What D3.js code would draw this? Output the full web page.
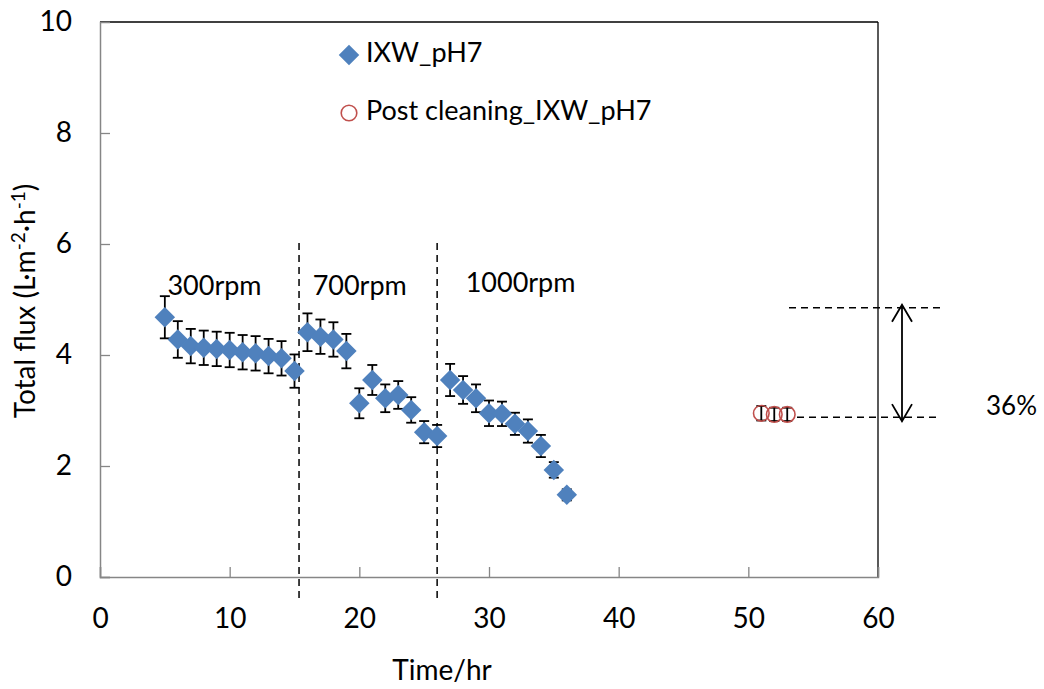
<!DOCTYPE html>
<html><head><meta charset="utf-8">
<script src="https://cdn.jsdelivr.net/npm/d3@7"></script>
<style>body{margin:0;background:#fff}svg{display:block}text{font-family:Lato,"Open Sans",sans-serif;fill:#000}</style>
</head><body>
<svg id="c" width="1044" height="689"></svg>
<script>
const ixwTime = [5,6,7,8,9,10,11,12,13,14,15,16,17,18,19,20,21,22,23,24,25,26,27,28,29,30,31,32,33,34,35,36];
const ixwFlux = [4.68,4.28,4.16,4.13,4.11,4.09,4.05,4.03,3.98,3.94,3.71,4.41,4.33,4.28,4.07,3.13,3.55,3.22,3.28,3.01,2.61,2.54,3.55,3.37,3.22,2.95,2.94,2.76,2.63,2.36,1.93,1.48];
const ixwErr  = [0.38,0.33,0.31,0.31,0.31,0.31,0.31,0.31,0.31,0.31,0.3,0.34,0.31,0.31,0.31,0.27,0.27,0.25,0.25,0.23,0.2,0.2,0.29,0.25,0.25,0.23,0.22,0.2,0.21,0.2,0.14,0.1];
const postTime = [51,52,53];
const postFlux = [2.95,2.93,2.93];
const postErr  = [0.13,0.12,0.12];
const xTicks = [0,10,20,30,40,50,60];
const yTicks = [0,2,4,6,8,10];
const speedLabels = ["300rpm","700rpm","1000rpm"];
const speedLabelX = [5.2,16.4,28.2];
const speedLabelY = [5.2,5.2,5.26];
const speedBreaks = [15.35,26.0];
const recoveryTop = 4.85, recoveryBottom = 2.88;
const recoveryLabel = "36%";

const svg = d3.select("#c");
const x = d3.scaleLinear().domain([0,60]).range([100,878]);
const y = d3.scaleLinear().domain([0,10]).range([577,22]);
const blue = "#4f81bd", red = "#c0504d";

// frame top/right
svg.append("line").attr("x1",100).attr("x2",878).attr("y1",22).attr("y2",22).attr("stroke","#000").attr("stroke-width",1.3);
svg.append("line").attr("x1",878).attr("x2",878).attr("y1",22).attr("y2",577).attr("stroke","#000").attr("stroke-width",1.3);

// axes
const gx = svg.append("g").attr("transform","translate(0,577)")
  .call(d3.axisBottom(x).tickValues(xTicks).tickSize(-10).tickPadding(31).tickFormat(d3.format("d")));
const gy = svg.append("g").attr("transform","translate(100,0)")
  .call(d3.axisLeft(y).tickValues(yTicks).tickSize(-10).tickPadding(28).tickFormat(d3.format("d")));
[gx,gy].forEach(g=>{
  g.select(".domain").attr("stroke","#868686").attr("stroke-width",1.5);
  g.selectAll(".tick line").attr("stroke","#868686").attr("stroke-width",1.3);
  g.selectAll(".tick text").style("font-size","28px").style("font-family","Lato, sans-serif").attr("fill","#000");
});
gx.selectAll(".tick text").attr("dy","0.71em");
gy.select(".tick:last-of-type line").remove();

// vertical dashed separators
svg.selectAll(".sep").data(speedBreaks).enter().append("line")
  .attr("x1",d=>x(d)).attr("x2",d=>x(d)).attr("y1",y(6.02)).attr("y2",y(-0.45))
  .attr("stroke","#000").attr("stroke-width",1.5).attr("stroke-dasharray","7,5");

// speed labels
svg.selectAll(".sl").data(speedLabels).enter().append("text")
  .attr("x",(d,i)=>x(speedLabelX[i])).attr("y",(d,i)=>y(speedLabelY[i]))
  .attr("dominant-baseline","middle").style("font-size","27px").text(d=>d);

// error bars
function errBars(times, vals, errs){
  const g = svg.append("g").attr("stroke","#000").attr("stroke-width",1.8);
  times.forEach((t,i)=>{
    const cx = x(t), y1 = y(vals[i]+errs[i]), y2 = y(vals[i]-errs[i]);
    g.append("line").attr("x1",cx).attr("x2",cx).attr("y1",y1).attr("y2",y2);
    g.append("line").attr("x1",cx-5).attr("x2",cx+5).attr("y1",y1).attr("y2",y1);
    g.append("line").attr("x1",cx-5).attr("x2",cx+5).attr("y1",y2).attr("y2",y2);
  });
}
errBars(ixwTime, ixwFlux, ixwErr);
errBars(postTime, postFlux, postErr);

svg.append("g").selectAll("path").data(ixwTime).enter().append("path")
  .attr("transform",(d,i)=>`translate(${x(d)},${y(ixwFlux[i])}) rotate(45)`)
  .attr("d",d3.symbol().type(d3.symbolSquare).size(210)).attr("fill",blue);

svg.append("g").selectAll("circle").data(postTime).enter().append("circle")
  .attr("cx",d=>x(d)).attr("cy",(d,i)=>y(postFlux[i])).attr("r",7.8)
  .attr("fill","none").attr("stroke",red).attr("stroke-width",1.6);

// recovery annotation
svg.append("line").attr("x1",789).attr("x2",943).attr("y1",y(recoveryTop)).attr("y2",y(recoveryTop))
  .attr("stroke","#000").attr("stroke-width",1.5).attr("stroke-dasharray","7,5");
svg.append("line").attr("x1",797).attr("x2",940).attr("y1",y(recoveryBottom)).attr("y2",y(recoveryBottom))
  .attr("stroke","#000").attr("stroke-width",1.5).attr("stroke-dasharray","7,5");
const ax = 902, ya = y(recoveryTop)-3, yb = y(recoveryBottom)+4;
svg.append("line").attr("x1",ax).attr("x2",ax).attr("y1",ya).attr("y2",yb).attr("stroke","#000").attr("stroke-width",1.8);
svg.append("path").attr("d",`M${ax-10},${ya+17}L${ax},${ya}L${ax+10},${ya+17}`).attr("fill","none").attr("stroke","#000").attr("stroke-width",1.8);
svg.append("path").attr("d",`M${ax-10},${yb-17}L${ax},${yb}L${ax+10},${yb-17}`).attr("fill","none").attr("stroke","#000").attr("stroke-width",1.8);
svg.append("text").attr("x",986).attr("y",408).attr("dominant-baseline","middle").style("font-size","26px").text(recoveryLabel);

// legend
svg.append("path").attr("transform","translate(349,55) rotate(45)").attr("d",d3.symbol().type(d3.symbolSquare).size(210)).attr("fill",blue);
svg.append("text").attr("x",366).attr("y",55).attr("dominant-baseline","middle").style("font-size","27px").text("IXW_pH7");
svg.append("circle").attr("cx",349).attr("cy",113).attr("r",7.8).attr("fill","none").attr("stroke",red).attr("stroke-width",1.6);
svg.append("text").attr("x",366).attr("y",113).attr("dominant-baseline","middle").style("font-size","27px").text("Post cleaning_IXW_pH7");

// axis titles
svg.append("text").attr("x",442).attr("y",680).attr("text-anchor","middle").style("font-size","28px").text("Time/hr");
const yt = svg.append("text").attr("transform","translate(35,301) rotate(-90)").attr("text-anchor","middle").style("font-size","28px");
yt.append("tspan").text("Total flux (L·m");
yt.append("tspan").attr("dy",-10).style("font-size","19px").text("-2");
yt.append("tspan").attr("dy",10).text("·h");
yt.append("tspan").attr("dy",-10).style("font-size","19px").text("-1");
yt.append("tspan").attr("dy",10).text(")");
</script>
</body></html>
